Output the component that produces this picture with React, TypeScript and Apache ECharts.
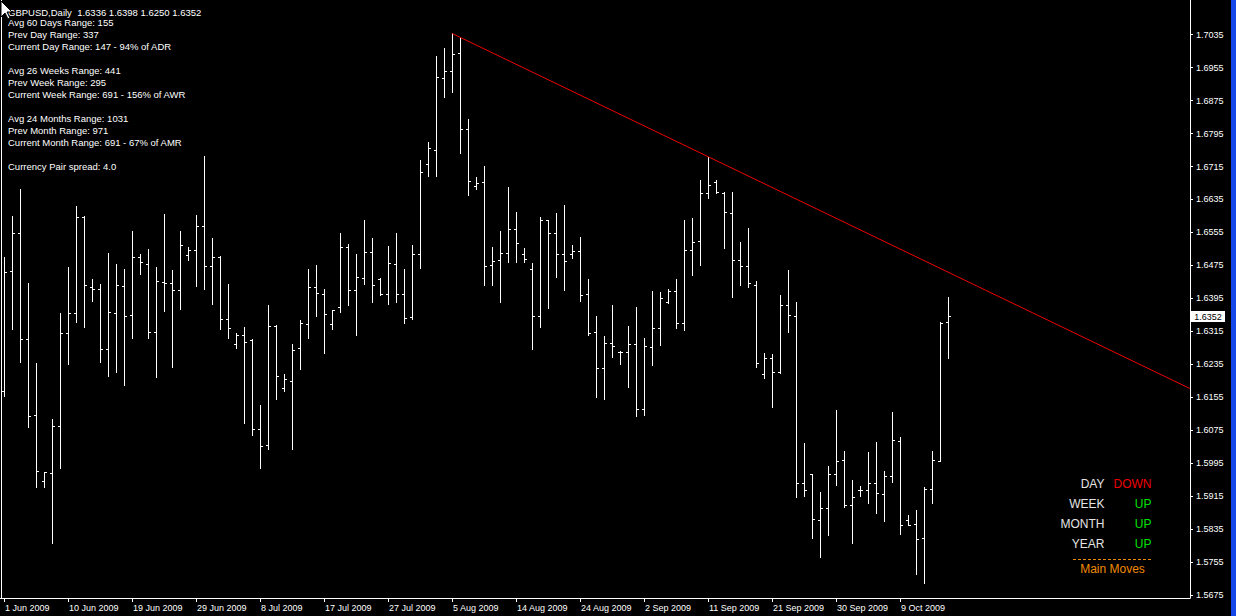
import React, { useEffect, useRef } from "react";
import * as echarts from "echarts";

// ---- data ----
const tickLabels = [
  "1 Jun 2009", "10 Jun 2009", "19 Jun 2009", "29 Jun 2009", "8 Jul 2009",
  "17 Jul 2009", "27 Jul 2009", "5 Aug 2009", "14 Aug 2009", "24 Aug 2009",
  "2 Sep 2009", "11 Sep 2009", "21 Sep 2009", "30 Sep 2009", "9 Oct 2009",
];
const barsPerLabel = 8;

const priceTicks = [
  1.5675, 1.5755, 1.5835, 1.5915, 1.5995, 1.6075, 1.6155, 1.6235, 1.6315,
  1.6395, 1.6475, 1.6555, 1.6635, 1.6715, 1.6795, 1.6875, 1.6955, 1.7035,
];

const opens = [
  1.6170, 1.6461, 1.6553, 1.6296, 1.6111, 1.5951, 1.5969, 1.6084, 1.6309, 1.6359,
  1.6592, 1.6422, 1.6417, 1.6271, 1.6359, 1.6424, 1.6354, 1.6495, 1.6478, 1.6313,
  1.6434, 1.6432, 1.6415, 1.6499, 1.6512, 1.6570, 1.6473, 1.6495, 1.6344, 1.6283,
  1.6305, 1.6293, 1.6077, 1.6038, 1.6327, 1.6177, 1.6194, 1.6274, 1.6332, 1.6422,
  1.6405, 1.6332, 1.6373, 1.6519, 1.6413, 1.6444, 1.6507, 1.6441, 1.6405, 1.6478,
  1.6405, 1.6349, 1.6502, 1.6719, 1.6754, 1.6929, 1.6946, 1.6990, 1.6806, 1.6667,
  1.6677, 1.6475, 1.6487, 1.6505, 1.6563, 1.6502, 1.6464, 1.6350, 1.6585, 1.6553,
  1.6502, 1.6502, 1.6509, 1.6405, 1.6313, 1.6225, 1.6286, 1.6264, 1.6264, 1.6283,
  1.6126, 1.6276, 1.6322, 1.6385, 1.6412, 1.6334, 1.6512, 1.6534, 1.6650, 1.6677,
  1.6650, 1.6601, 1.6488, 1.6473, 1.6427, 1.6211, 1.6249, 1.6215, 1.6378, 1.6351,
  1.5946, 1.5968, 1.5856, 1.5885, 1.5968, 1.6002, 1.5892, 1.5929, 1.5929, 1.5946,
  1.5919, 1.5963, 1.6048, 1.5856, 1.5847, 1.5813, 1.5932, 1.6000, 1.6336,
];
const highs = [
  1.6496, 1.6595, 1.6660, 1.6432, 1.6239, 1.5973, 1.6102, 1.6359, 1.6471, 1.6619,
  1.6595, 1.6442, 1.6429, 1.6504, 1.6478, 1.6466, 1.6558, 1.6503, 1.6515, 1.6471,
  1.6600, 1.6464, 1.6558, 1.6519, 1.6597, 1.6740, 1.6541, 1.6498, 1.6430, 1.6311,
  1.6325, 1.6296, 1.6136, 1.6379, 1.6330, 1.6212, 1.6284, 1.6342, 1.6466, 1.6476,
  1.6418, 1.6367, 1.6554, 1.6527, 1.6503, 1.6585, 1.6541, 1.6445, 1.6522, 1.6554,
  1.6466, 1.6524, 1.6731, 1.6774, 1.6983, 1.7003, 1.7038, 1.7027, 1.6830, 1.6690,
  1.6716, 1.6520, 1.6558, 1.6665, 1.6605, 1.6517, 1.6481, 1.6592, 1.6585, 1.6602,
  1.6622, 1.6524, 1.6544, 1.6442, 1.6352, 1.6304, 1.6379, 1.6266, 1.6328, 1.6374,
  1.6299, 1.6413, 1.6410, 1.6417, 1.6441, 1.6585, 1.6590, 1.6682, 1.6739, 1.6682,
  1.6653, 1.6653, 1.6532, 1.6566, 1.6437, 1.6262, 1.6260, 1.6403, 1.6464, 1.6386,
  1.6044, 1.5969, 1.5925, 1.5988, 1.6124, 1.6025, 1.5954, 1.5940, 1.6022, 1.6046,
  1.5975, 1.6119, 1.6058, 1.5868, 1.5881, 1.5937, 1.6025, 1.6337, 1.6398,
];
const lows = [
  1.6159, 1.6321, 1.6240, 1.6082, 1.5938, 1.5936, 1.5800, 1.5984, 1.6236, 1.6338,
  1.6326, 1.6389, 1.6240, 1.6207, 1.6217, 1.6185, 1.6299, 1.6454, 1.6299, 1.6204,
  1.6364, 1.6228, 1.6369, 1.6488, 1.6425, 1.6418, 1.6381, 1.6321, 1.6299, 1.6275,
  1.6093, 1.6064, 1.5982, 1.6030, 1.6151, 1.6170, 1.6030, 1.6224, 1.6299, 1.6353,
  1.6263, 1.6321, 1.6363, 1.6380, 1.6307, 1.6431, 1.6387, 1.6402, 1.6381, 1.6387,
  1.6336, 1.6346, 1.6469, 1.6693, 1.6693, 1.6884, 1.6897, 1.6748, 1.6647, 1.6661,
  1.6428, 1.6428, 1.6387, 1.6482, 1.6482, 1.6484, 1.6273, 1.6326, 1.6372, 1.6448,
  1.6416, 1.6494, 1.6389, 1.6307, 1.6156, 1.6151, 1.6253, 1.6235, 1.6181, 1.6110,
  1.6113, 1.6234, 1.6282, 1.6383, 1.6324, 1.6319, 1.6452, 1.6477, 1.6639, 1.6651,
  1.6518, 1.6399, 1.6428, 1.6423, 1.6229, 1.6202, 1.6132, 1.6215, 1.6314, 1.5914,
  1.5916, 1.5814, 1.5768, 1.5821, 1.5943, 1.5888, 1.5800, 1.5916, 1.5899, 1.5875,
  1.5855, 1.5950, 1.5824, 1.5844, 1.5727, 1.5705, 1.5899, 1.6000, 1.6250,
];
const closes = [
  1.6458, 1.6553, 1.6296, 1.6109, 1.5974, 1.5972, 1.6084, 1.6309, 1.6357, 1.6592,
  1.6427, 1.6417, 1.6271, 1.6360, 1.6427, 1.6352, 1.6495, 1.6481, 1.6313, 1.6436,
  1.6431, 1.6415, 1.6524, 1.6512, 1.6570, 1.6473, 1.6495, 1.6344, 1.6322, 1.6306,
  1.6288, 1.6077, 1.6036, 1.6327, 1.6206, 1.6198, 1.6269, 1.6334, 1.6422, 1.6407,
  1.6356, 1.6366, 1.6519, 1.6413, 1.6446, 1.6507, 1.6427, 1.6404, 1.6480, 1.6405,
  1.6347, 1.6502, 1.6701, 1.6759, 1.6932, 1.6946, 1.6987, 1.6806, 1.6679, 1.6674,
  1.6473, 1.6485, 1.6505, 1.6563, 1.6529, 1.6490, 1.6350, 1.6584, 1.6553, 1.6502,
  1.6485, 1.6509, 1.6402, 1.6310, 1.6225, 1.6286, 1.6278, 1.6264, 1.6284, 1.6124,
  1.6278, 1.6322, 1.6395, 1.6412, 1.6334, 1.6512, 1.6531, 1.6650, 1.6668, 1.6652,
  1.6604, 1.6486, 1.6473, 1.6432, 1.6236, 1.6249, 1.6215, 1.6378, 1.6354, 1.5946,
  1.5929, 1.5859, 1.5885, 1.5968, 1.6000, 1.5892, 1.5912, 1.5929, 1.5946, 1.5922,
  1.5963, 1.6050, 1.5844, 1.5844, 1.5810, 1.5932, 1.6002, 1.6334, 1.6352,
];

// trendline anchors: [bar index, price]
const trendStart = [56, 1.7038];
const trendEnd = [148.25, 1.6176];

const headerLine = "GBPUSD,Daily  1.6336 1.6398 1.6250 1.6352";
const infoLines = [
  "Avg 60 Days Range: 155",
  "Prev Day Range: 337",
  "Current Day Range: 147 - 94% of ADR",
  "",
  "Avg 26 Weeks Range: 441",
  "Prev Week Range: 295",
  "Current Week Range: 691 - 156% of AWR",
  "",
  "Avg 24 Months Range: 1031",
  "Prev Month Range: 971",
  "Current Month Range: 691 - 67% of AMR",
  "",
  "Currency Pair spread: 4.0",
];
const moveNames = ["DAY", "WEEK", "MONTH", "YEAR"];
const moveValues = ["DOWN", "UP", "UP", "UP"];
const moveTitle = "Main Moves";

const FONT = "'Liberation Sans', Arial, sans-serif";
const RED = "#ee0000";
const GREEN = "#00e000";
const ORANGE = "#f08a00";

export default function App() {
  const ref = useRef<HTMLDivElement>(null);

  useEffect(() => {
    if (!ref.current) return;
    const chart = echarts.init(ref.current, null, { renderer: "svg" });

    const bars = opens.map((o, i) => [i, o, highs[i], lows[i], closes[i]]);
    const xTicks = tickLabels.map((_, i) => i * barsPerLabel);

    const g: any[] = [];
    g.push({
      id: "frameLeft",
      type: "line",
      shape: { x1: 1.5, y1: 0, x2: 1.5, y2: 598 },
      style: { stroke: "#ffffff", lineWidth: 1 },
      silent: true,
    });
    g.push({
      id: "blueStrip",
      type: "rect",
      shape: { x: 1231, y: 0, width: 5, height: 616 },
      style: { fill: "#1446e8" },
      silent: true,
    });
    g.push({
      id: "header",
      type: "text",
      x: 8,
      y: 12,
      style: {
        text: headerLine,
        fill: "#ffffff",
        font: `9.5px ${FONT}`,
        verticalAlign: "middle",
        align: "left",
      },
      silent: true,
    });
    infoLines.forEach((t, i) => {
      if (!t) return;
      g.push({
        id: "info" + i,
        type: "text",
        x: 8,
        y: 22.5 + 12 * i,
        style: {
          text: t,
          fill: "#ffffff",
          font: `9.5px ${FONT}`,
          verticalAlign: "middle",
          align: "left",
        },
        silent: true,
      });
    });
    moveNames.forEach((n, i) => {
      g.push({
        id: "mn" + i,
        type: "text",
        x: 1104.5,
        y: 483.5 + 20 * i,
        style: {
          text: n,
          fill: "#e4e4e4",
          font: `12px ${FONT}`,
          verticalAlign: "middle",
          align: "right",
        },
        silent: true,
      });
      g.push({
        id: "mv" + i,
        type: "text",
        x: 1151.5,
        y: 483.5 + 20 * i,
        style: {
          text: moveValues[i],
          fill: moveValues[i] === "DOWN" ? RED : GREEN,
          font: `12px ${FONT}`,
          verticalAlign: "middle",
          align: "right",
        },
        silent: true,
      });
    });
    g.push({
      id: "dash",
      type: "line",
      shape: { x1: 1073, y1: 559.5, x2: 1152, y2: 559.5 },
      style: { stroke: ORANGE, lineWidth: 1, lineDash: [3, 2] },
      silent: true,
    });
    g.push({
      id: "mtitle",
      type: "text",
      x: 1112.5,
      y: 568.5,
      style: {
        text: moveTitle,
        fill: ORANGE,
        font: `12px ${FONT}`,
        verticalAlign: "middle",
        align: "center",
      },
      silent: true,
    });
    g.push({
      id: "cursor",
      type: "polygon",
      shape: {
        points: [
          [1, 1], [1, 17], [5, 13], [8, 19], [10, 18], [7, 12], [12, 12],
        ],
      },
      style: { fill: "#ffffff", stroke: "#000000", lineWidth: 1 },
      z: 100,
      silent: true,
    });

    const option: any = {
      animation: false,
      backgroundColor: "#000000",
      grid: {
        left: 0,
        right: 46,
        top: 0,
        bottom: 18,
        outerBoundsMode: "none",
        containLabel: false,
      },
      xAxis: {
        type: "value",
        min: -0.5,
        max: 148.25,
        position: "bottom",
        axisLine: { show: true, onZero: false, lineStyle: { color: "#ffffff", width: 1 } },
        axisTick: {
          show: true,
          length: 4,
          customValues: xTicks,
          lineStyle: { color: "#ffffff" },
        },
        axisLabel: {
          customValues: xTicks,
          formatter: (v: number) => tickLabels[Math.round(v / barsPerLabel)] ?? "",
          color: "#ffffff",
          fontFamily: FONT,
          fontSize: 9,
          align: "left",
          margin: 5,
          padding: [0, 0, 0, 1],
        },
        splitLine: { show: false },
      },
      yAxis: {
        type: "value",
        position: "right",
        min: 1.566767,
        max: 1.711913,
        axisLine: { show: true, onZero: false, lineStyle: { color: "#ffffff", width: 1 } },
        axisTick: {
          show: true,
          length: 3,
          customValues: priceTicks,
          lineStyle: { color: "#ffffff" },
        },
        axisLabel: {
          customValues: priceTicks,
          formatter: (v: number) => v.toFixed(4),
          color: "#ffffff",
          fontFamily: FONT,
          fontSize: 9,
          margin: 6,
        },
        splitLine: { show: false },
      },
      series: [
        {
          type: "custom",
          silent: true,
          data: bars,
          encode: { x: 0, y: [1, 2, 3, 4] },
          clip: true,
          renderItem: (_params: any, api: any) => {
            const k = api.value(0);
            const pO = api.coord([k, api.value(1)]);
            const pH = api.coord([k, api.value(2)]);
            const pL = api.coord([k, api.value(3)]);
            const pC = api.coord([k, api.value(4)]);
            const cx = Math.round(pO[0]) + 0.5;
            const snap = (y: number) => Math.floor(y) + 0.5;
            const st = { stroke: "#ffffff", lineWidth: 1 };
            return {
              type: "group",
              children: [
                {
                  type: "line",
                  shape: { x1: cx, y1: Math.round(pH[1]), x2: cx, y2: Math.round(pL[1]) + 1 },
                  style: st,
                },
                {
                  type: "line",
                  shape: { x1: cx - 2.5, y1: snap(pO[1]), x2: cx, y2: snap(pO[1]) },
                  style: st,
                },
                {
                  type: "line",
                  shape: { x1: cx, y1: snap(pC[1]), x2: cx + 2.5, y2: snap(pC[1]) },
                  style: st,
                },
              ],
            };
          },
        },
        {
          type: "line",
          silent: true,
          data: [trendStart, trendEnd],
          symbol: "none",
          lineStyle: { color: RED, width: 1 },
          clip: false,
          z: 5,
        },
      ],
      graphic: { elements: g },
    };

    chart.setOption(option);

    const last = closes[closes.length - 1];
    const py = chart.convertToPixel({ yAxisIndex: 0 }, last) as number;
    chart.setOption({
      graphic: {
        elements: [
          {
            id: "priceBox",
            type: "rect",
            shape: { x: 1191, y: Math.round(py) - 5, width: 34, height: 11 },
            style: { fill: "#ffffff" },
            silent: true,
            z: 50,
          },
          {
            id: "priceText",
            type: "text",
            x: 1208,
            y: Math.round(py) + 0.5,
            style: {
              text: last.toFixed(4),
              fill: "#000000",
              font: `9px ${FONT}`,
              align: "center",
              verticalAlign: "middle",
            },
            silent: true,
            z: 51,
          },
        ],
      },
    });

    return () => chart.dispose();
  }, []);

  return (
    <div
      ref={ref}
      style={{
        position: "fixed",
        left: 0,
        top: 0,
        width: 1236,
        height: 616,
        background: "#000000",
      }}
    />
  );
}
